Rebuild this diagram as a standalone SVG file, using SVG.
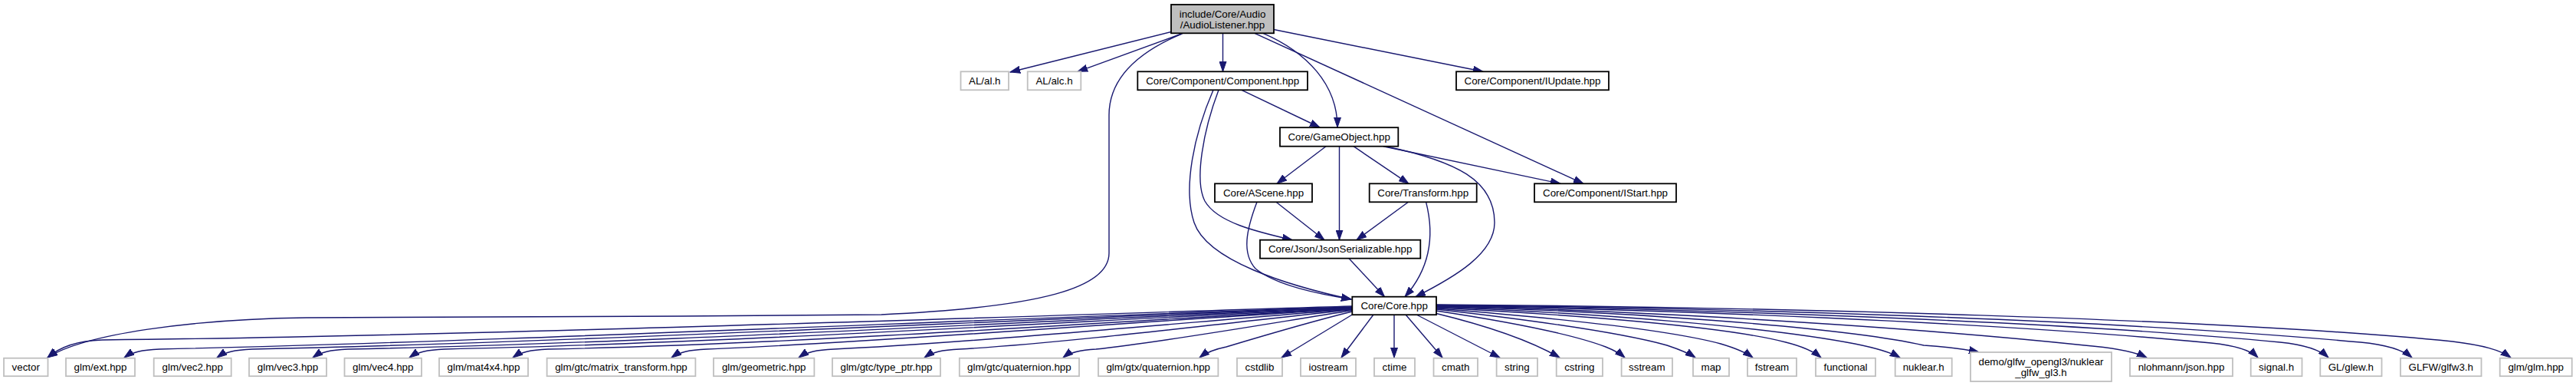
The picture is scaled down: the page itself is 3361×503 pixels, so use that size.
<svg xmlns="http://www.w3.org/2000/svg" width="3361" height="503" viewBox="0 0 3361 503">
<style>
text{font-family:"Liberation Sans",Arial,Helvetica,sans-serif;font-size:13.33px;fill:#000;text-anchor:middle}
.n rect{fill:#fff;stroke:#000;stroke-width:1.8}
.g rect{fill:#fff;stroke:#bfbfbf;stroke-width:1.8}
.r rect{fill:#bfbfbf;stroke:#000;stroke-width:1.8}
#edges path{fill:none;stroke:#191970;stroke-width:1.4;marker-end:url(#arr)}
</style>
<defs>
<marker id="arr" markerWidth="14" markerHeight="10" refX="13" refY="5" orient="auto" markerUnits="userSpaceOnUse">
<path d="M0,0.5 L13,5 L0,9.5 z" fill="#191970" stroke="#191970" stroke-width="1"/>
</marker>
</defs>
<rect width="3361" height="503" fill="#fff"/>
<g id="edges">
<path d="M1528,41.5 L1318,94"/>
<path d="M1543,43.5 L1406,93.3"/>
<path d="M1595.5,43.3 L1595.5,93.3"/>
<path d="M1662,38.5 L1935,93.3"/>
<path d="M1637,43.3 L2066,239.3"/>
<path d="M1648,43.3 C1705,68 1745,110 1745,166"/>
<path d="M1620,117.3 L1722,166"/>
<path d="M1542,44 C1480,70 1447,105 1447,150 L1447,330 C1447,375 1360,400 1150,410 C900,413 600,412 400,414 C250,416 110,435 62,466"/>
<path d="M1590,117.3 C1570,170 1558,235 1572,262 C1588,290 1640,302 1686,312.7"/>
<path d="M1583,117.3 C1558,175 1543,245 1558,290 C1575,340 1680,372 1763,390"/>
<path d="M1640,263.3 C1626,300 1620,330 1638,350 C1665,372 1720,383 1763,390"/>
<path d="M1665,263.3 L1728,312.7"/>
<path d="M1730,190.7 L1666,239.3"/>
<path d="M1747.5,190.7 L1747.5,312.7"/>
<path d="M1766,190.7 L1838,239.3"/>
<path d="M1805,190.7 L2036,239.3"/>
<path d="M1808,190.7 C1900,210 1950,235 1950,290 C1950,330 1900,360 1847,386.7"/>
<path d="M1837.5,263.3 L1770,312.7"/>
<path d="M1860.6,263.3 C1870,300 1870,345 1833,386.7"/>
<path d="M1760,336.7 L1806.5,386.7"/>
<path d="M1764,399 C1300,413 600,438 133,443 C100,444 78,452 62,466"/>
<path d="M1764,400 C1300,415 650,445 208,455 C185,456 172,459 162,466"/>
<path d="M1764,400.5 C1330,416 750,446 329,455 C306,456 293,459 283,466"/>
<path d="M1764,401 C1370,417 850,447 454,455 C431,456 418,459 408,466"/>
<path d="M1764,401.5 C1410,418 950,447 580,455 C557,456 544,459 534,466"/>
<path d="M1764,402 C1450,419 1050,448 715,455 C692,456 679,459 669,466"/>
<path d="M1764,402.5 C1500,418 1130,447 922,455 C899,456 886,459 876,466"/>
<path d="M1764,403 C1560,419 1250,448 1088,455 C1065,456 1052,459 1042,466"/>
<path d="M1764,403.5 C1610,420 1380,448 1252,455 C1229,456 1216,459 1206,466"/>
<path d="M1764,404.5 C1665,420 1510,447 1430,455 C1409,456 1396,459 1387,466"/>
<path d="M1764,406 C1715,418 1640,440 1600,452 C1585,455 1574,459 1565,466"/>
<path d="M1766,409 L1672,466"/>
<path d="M1792,410 L1750,466"/>
<path d="M1819,410 L1819,466"/>
<path d="M1834,410 L1882,466"/>
<path d="M1848,410 L1957,466"/>
<path d="M1872,408 C1930,422 1990,440 2035,466"/>
<path d="M1874,405 C1960,418 2050,435 2095,452 C2105,456 2113,460 2120,466"/>
<path d="M1874,403 C1980,415 2110,432 2175,450 C2190,455 2203,460 2212,466"/>
<path d="M1874,402 C2000,412 2170,428 2245,448 C2262,453 2276,458 2287,466"/>
<path d="M1874,401 C2050,410 2250,425 2330,446 C2350,451 2365,457 2376,466"/>
<path d="M1874,400 C2080,408 2300,425 2420,448 C2445,453 2465,458 2479,466"/>
<path d="M1874,399.5 C2100,405 2400,425 2510,450 C2540,452 2565,455 2582,459"/>
<path d="M1874,399 C2130,404 2480,425 2720,450 C2755,453 2785,458 2801,466"/>
<path d="M1874,398.5 C2170,403 2600,420 2885,447 C2915,450 2936,456 2946,466"/>
<path d="M1874,398 C2200,402 2680,418 2975,446 C3005,449 3027,456 3038,466"/>
<path d="M1874,397.5 C2250,401 2750,416 3080,446 C3112,449 3135,456 3147,466"/>
<path d="M1874,397 C2300,400 2900,415 3200,445 C3240,450 3262,456 3276,466"/>
</g>
<g id="node_root" class="r"><rect x="1528" y="6" width="134" height="37.3"/><text x="1595" y="23">include/Core/Audio</text><text x="1595" y="37">/AudioListener.hpp</text></g>
<g id="node_al" class="g"><rect x="1253.5" y="93.3" width="62.5" height="24"/><text x="1284.75" y="109.8">AL/al.h</text></g>
<g id="node_alc" class="g"><rect x="1340.7" y="93.3" width="69.6" height="24"/><text x="1375.5" y="109.8">AL/alc.h</text></g>
<g id="node_component" class="n"><rect x="1484.3" y="93.3" width="221.7" height="24"/><text x="1595.15" y="109.8">Core/Component/Component.hpp</text></g>
<g id="node_iupdate" class="n"><rect x="1900" y="93.3" width="199" height="24"/><text x="1999.5" y="109.8">Core/Component/IUpdate.hpp</text></g>
<g id="node_gameobject" class="n"><rect x="1670" y="166.2" width="154.3" height="24.5"/><text x="1747.15" y="183">Core/GameObject.hpp</text></g>
<g id="node_ascene" class="n"><rect x="1585" y="239.3" width="127" height="24"/><text x="1648.5" y="255.8">Core/AScene.hpp</text></g>
<g id="node_transform" class="n"><rect x="1786.7" y="239.3" width="140" height="24"/><text x="1856.7" y="255.8">Core/Transform.hpp</text></g>
<g id="node_istart" class="n"><rect x="2002" y="239.3" width="185" height="24"/><text x="2094.5" y="255.8">Core/Component/IStart.hpp</text></g>
<g id="node_json" class="n"><rect x="1644" y="312.7" width="209.3" height="24"/><text x="1748.65" y="329.2">Core/Json/JsonSerializable.hpp</text></g>
<g id="node_core" class="n"><rect x="1764.3" y="386.7" width="109.7" height="23.5"/><text x="1819.15" y="403">Core/Core.hpp</text></g>
<g id="node_vector" class="g"><rect x="5" y="466.7" width="57.5" height="23.5"/><text x="33.75" y="483">vector</text></g>
<g id="node_ext" class="g"><rect x="86" y="466.7" width="90" height="23.5"/><text x="131" y="483">glm/ext.hpp</text></g>
<g id="node_vec2" class="g"><rect x="200.7" y="466.7" width="101" height="23.5"/><text x="251.2" y="483">glm/vec2.hpp</text></g>
<g id="node_vec3" class="g"><rect x="325" y="466.7" width="101" height="23.5"/><text x="375.5" y="483">glm/vec3.hpp</text></g>
<g id="node_vec4" class="g"><rect x="449.5" y="466.7" width="100.5" height="23.5"/><text x="499.75" y="483">glm/vec4.hpp</text></g>
<g id="node_mat4x4" class="g"><rect x="573" y="466.7" width="116" height="23.5"/><text x="631" y="483">glm/mat4x4.hpp</text></g>
<g id="node_matrix_transform" class="g"><rect x="713.6" y="466.7" width="193.8" height="23.5"/><text x="810.5" y="483">glm/gtc/matrix_transform.hpp</text></g>
<g id="node_geometric" class="g"><rect x="931" y="466.7" width="131.4" height="23.5"/><text x="996.7" y="483">glm/geometric.hpp</text></g>
<g id="node_type_ptr" class="g"><rect x="1086" y="466.7" width="141" height="23.5"/><text x="1156.5" y="483">glm/gtc/type_ptr.hpp</text></g>
<g id="node_gtc_quat" class="g"><rect x="1251.8" y="466.7" width="156.2" height="23.5"/><text x="1329.9" y="483">glm/gtc/quaternion.hpp</text></g>
<g id="node_gtx_quat" class="g"><rect x="1433" y="466.7" width="156.4" height="23.5"/><text x="1511.2" y="483">glm/gtx/quaternion.hpp</text></g>
<g id="node_cstdlib" class="g"><rect x="1614" y="466.7" width="59" height="23.5"/><text x="1643.5" y="483">cstdlib</text></g>
<g id="node_iostream" class="g"><rect x="1697" y="466.7" width="72" height="23.5"/><text x="1733" y="483">iostream</text></g>
<g id="node_ctime" class="g"><rect x="1793" y="466.7" width="53" height="23.5"/><text x="1819.5" y="483">ctime</text></g>
<g id="node_cmath" class="g"><rect x="1870.5" y="466.7" width="57.5" height="23.5"/><text x="1899.25" y="483">cmath</text></g>
<g id="node_string" class="g"><rect x="1952.6" y="466.7" width="53.4" height="23.5"/><text x="1979.3" y="483">string</text></g>
<g id="node_cstring" class="g"><rect x="2030.7" y="466.7" width="60.3" height="23.5"/><text x="2060.85" y="483">cstring</text></g>
<g id="node_sstream" class="g"><rect x="2115.6" y="466.7" width="66.4" height="23.5"/><text x="2148.8" y="483">sstream</text></g>
<g id="node_map" class="g"><rect x="2209" y="466.7" width="47" height="23.5"/><text x="2232.5" y="483">map</text></g>
<g id="node_fstream" class="g"><rect x="2280" y="466.7" width="64" height="23.5"/><text x="2312" y="483">fstream</text></g>
<g id="node_functional" class="g"><rect x="2369" y="466.7" width="78" height="23.5"/><text x="2408" y="483">functional</text></g>
<g id="node_nuklear" class="g"><rect x="2472.7" y="466.7" width="74" height="23.5"/><text x="2509.7" y="483">nuklear.h</text></g>
<g id="node_demo" class="g"><rect x="2571" y="459" width="184" height="38"/><text x="2663" y="476">demo/glfw_opengl3/nuklear</text><text x="2663" y="490">_glfw_gl3.h</text></g>
<g id="node_nlohmann" class="g"><rect x="2779" y="466.7" width="134" height="23.5"/><text x="2846" y="483">nlohmann/json.hpp</text></g>
<g id="node_signal" class="g"><rect x="2936.7" y="466.7" width="66.8" height="23.5"/><text x="2970.1" y="483">signal.h</text></g>
<g id="node_glew" class="g"><rect x="3027.3" y="466.7" width="80.2" height="23.5"/><text x="3067.4" y="483">GL/glew.h</text></g>
<g id="node_glfw" class="g"><rect x="3132" y="466.7" width="105.5" height="23.5"/><text x="3184.75" y="483">GLFW/glfw3.h</text></g>
<g id="node_glm" class="g"><rect x="3261.7" y="466.7" width="94" height="23.5"/><text x="3308.7" y="483">glm/glm.hpp</text></g>
</svg>
